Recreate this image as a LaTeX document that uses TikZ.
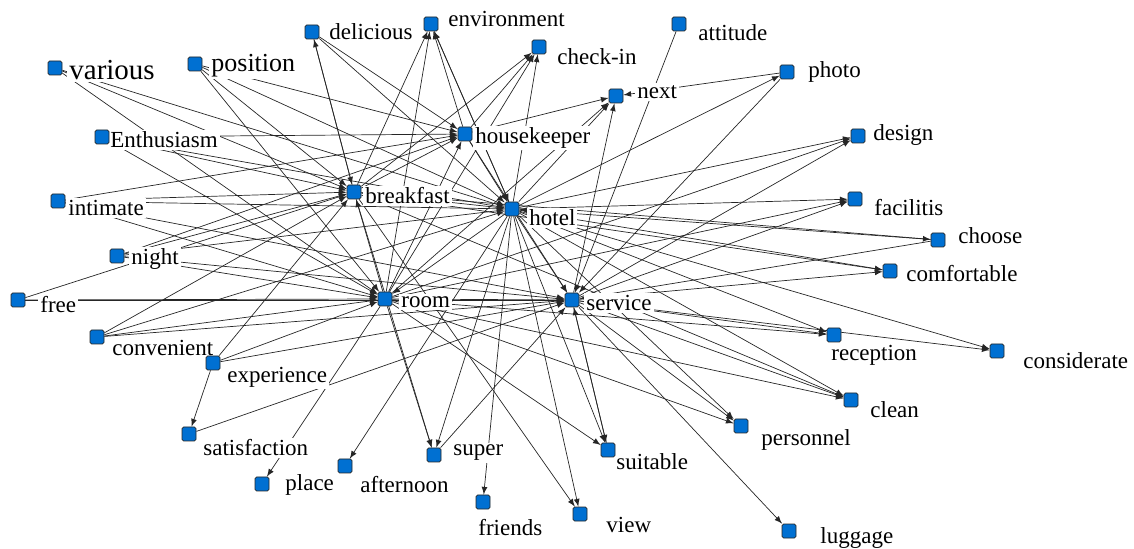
\documentclass[tikz,border=0pt]{standalone}
\usepackage{fontspec}
\setmainfont{Liberation Serif}
\usepackage{xcolor}
\usetikzlibrary{backgrounds}
\definecolor{nodeblue}{RGB}{0,112,210}

\tikzset{
  sq/.style={draw=black!85, fill=nodeblue, minimum size=7pt, inner sep=0pt, rounded corners=0.8pt, line width=0.4pt},
  lbl/.style={anchor=west, fill=white, inner sep=1pt, font=\fontsize{11.5}{13}\selectfont},
  edge/.style={-latex, line width=0.35pt, black!85}
}

\begin{document}
\begin{tikzpicture}[x=0.5pt, y=-0.5pt]
  \useasboundingbox (0,0) rectangle (1134,549);
  % words: square, then its text
  \foreach \n/\x/\y/\t/\lx/\ly in {
      delicious/312/32/delicious/327/32, environment/431/24/environment/446/19,
      checkin/539/47/check-in/555/57, attitude/679/24/attitude/696/33,
      photo/787/72/photo/806/72, enthusiasm/102/137/Enthusiasm/108/140,
      housekeeper/465/134/housekeeper/473/138, next/616/96/next/635/92,
      design/858/136/design/871/135, breakfast/354/192/breakfast/363/196,
      hotel/512/209/hotel/527/218, intimate/58/201/intimate/66/208,
      facilitis/855/199/facilitis/872/208, choose/938/240/choose/956/236,
      night/117/256/night/129/259, comfortable/890/271/comfortable/904/274,
      free/18/300/free/38/305, room/385/299/room/399/302,
      service/572/300/service/584/303, convenient/97/337/convenient/110/348,
      reception/834/335/reception/829/355, considerate/997/351/considerate/1021/361,
      experience/213/363/experience/225/377, clean/851/400/clean/868/410,
      satisfaction/189/434/satisfaction/201/448, personnel/741/426/personnel/759/440,
      place/262/484/place/283/485, afternoon/345/466/afternoon/358/485,
      super/434/455/super/451/453, suitable/608/450/suitable/614/462,
      friends/483/502/friends/476/528, view/580/514/view/604/525,
      luggage/789/531/luggage/818/538}
  {
    \node[lbl] (\n-l) at (\lx,\ly) {\t};
    \node[sq] (\n) at (\x,\y) {};
  }
  \node[lbl, font=\fontsize{14.5}{16}\selectfont] (various-l) at (67,70) {various};
  \node[sq] (various) at (55,68) {};
  \node[lbl, font=\fontsize{13}{15}\selectfont] (position-l) at (209,66) {position};
  \node[sq] (position) at (195,64) {};

  % links
  \begin{scope}[on background layer]
    \foreach \a/\b in {
        breakfast/delicious, delicious/breakfast, breakfast/environment, breakfast/housekeeper,
        breakfast/checkin, breakfast/hotel, room/breakfast, breakfast/super, breakfast/view,
        breakfast/clean, breakfast/comfortable, breakfast/choose, various/breakfast,
        position/breakfast, enthusiasm/breakfast, intimate/breakfast, night/breakfast,
        convenient/breakfast, experience/breakfast, free/breakfast,
        enthusiasm/housekeeper, intimate/housekeeper, night/housekeeper, room/housekeeper,
        position/housekeeper, delicious/housekeeper, housekeeper/environment,
        housekeeper/checkin, housekeeper/next, housekeeper/hotel, housekeeper/service,
        hotel/environment, hotel/checkin, hotel/next, hotel/photo, hotel/design,
        hotel/facilitis, hotel/comfortable, hotel/reception, hotel/clean, hotel/considerate,
        hotel/personnel, hotel/suitable, hotel/view, hotel/super, hotel/afternoon,
        hotel/friends, hotel/service, hotel/room, various/hotel, position/hotel,
        enthusiasm/hotel, intimate/hotel, night/hotel, delicious/hotel, environment/hotel,
        convenient/hotel, choose/hotel,
        room/super, room/environment, room/checkin, room/next, room/design, room/facilitis,
        room/reception, room/clean, room/personnel, room/suitable, room/service, room/place,
        free/room, night/room, intimate/room, enthusiasm/room, position/room, various/room,
        convenient/room, experience/room,
        free/service, night/service, intimate/service, convenient/service, experience/service,
        satisfaction/service, super/service, suitable/service, service/suitable,
        service/reception, service/clean, service/comfortable, service/design,
        service/facilitis, service/considerate, service/luggage, service/personnel,
        service/next, photo/service, choose/service, attitude/service,
        experience/satisfaction, photo/next}
      \draw[edge] (\a) -- (\b);
  \end{scope}
\end{tikzpicture}
\end{document}
